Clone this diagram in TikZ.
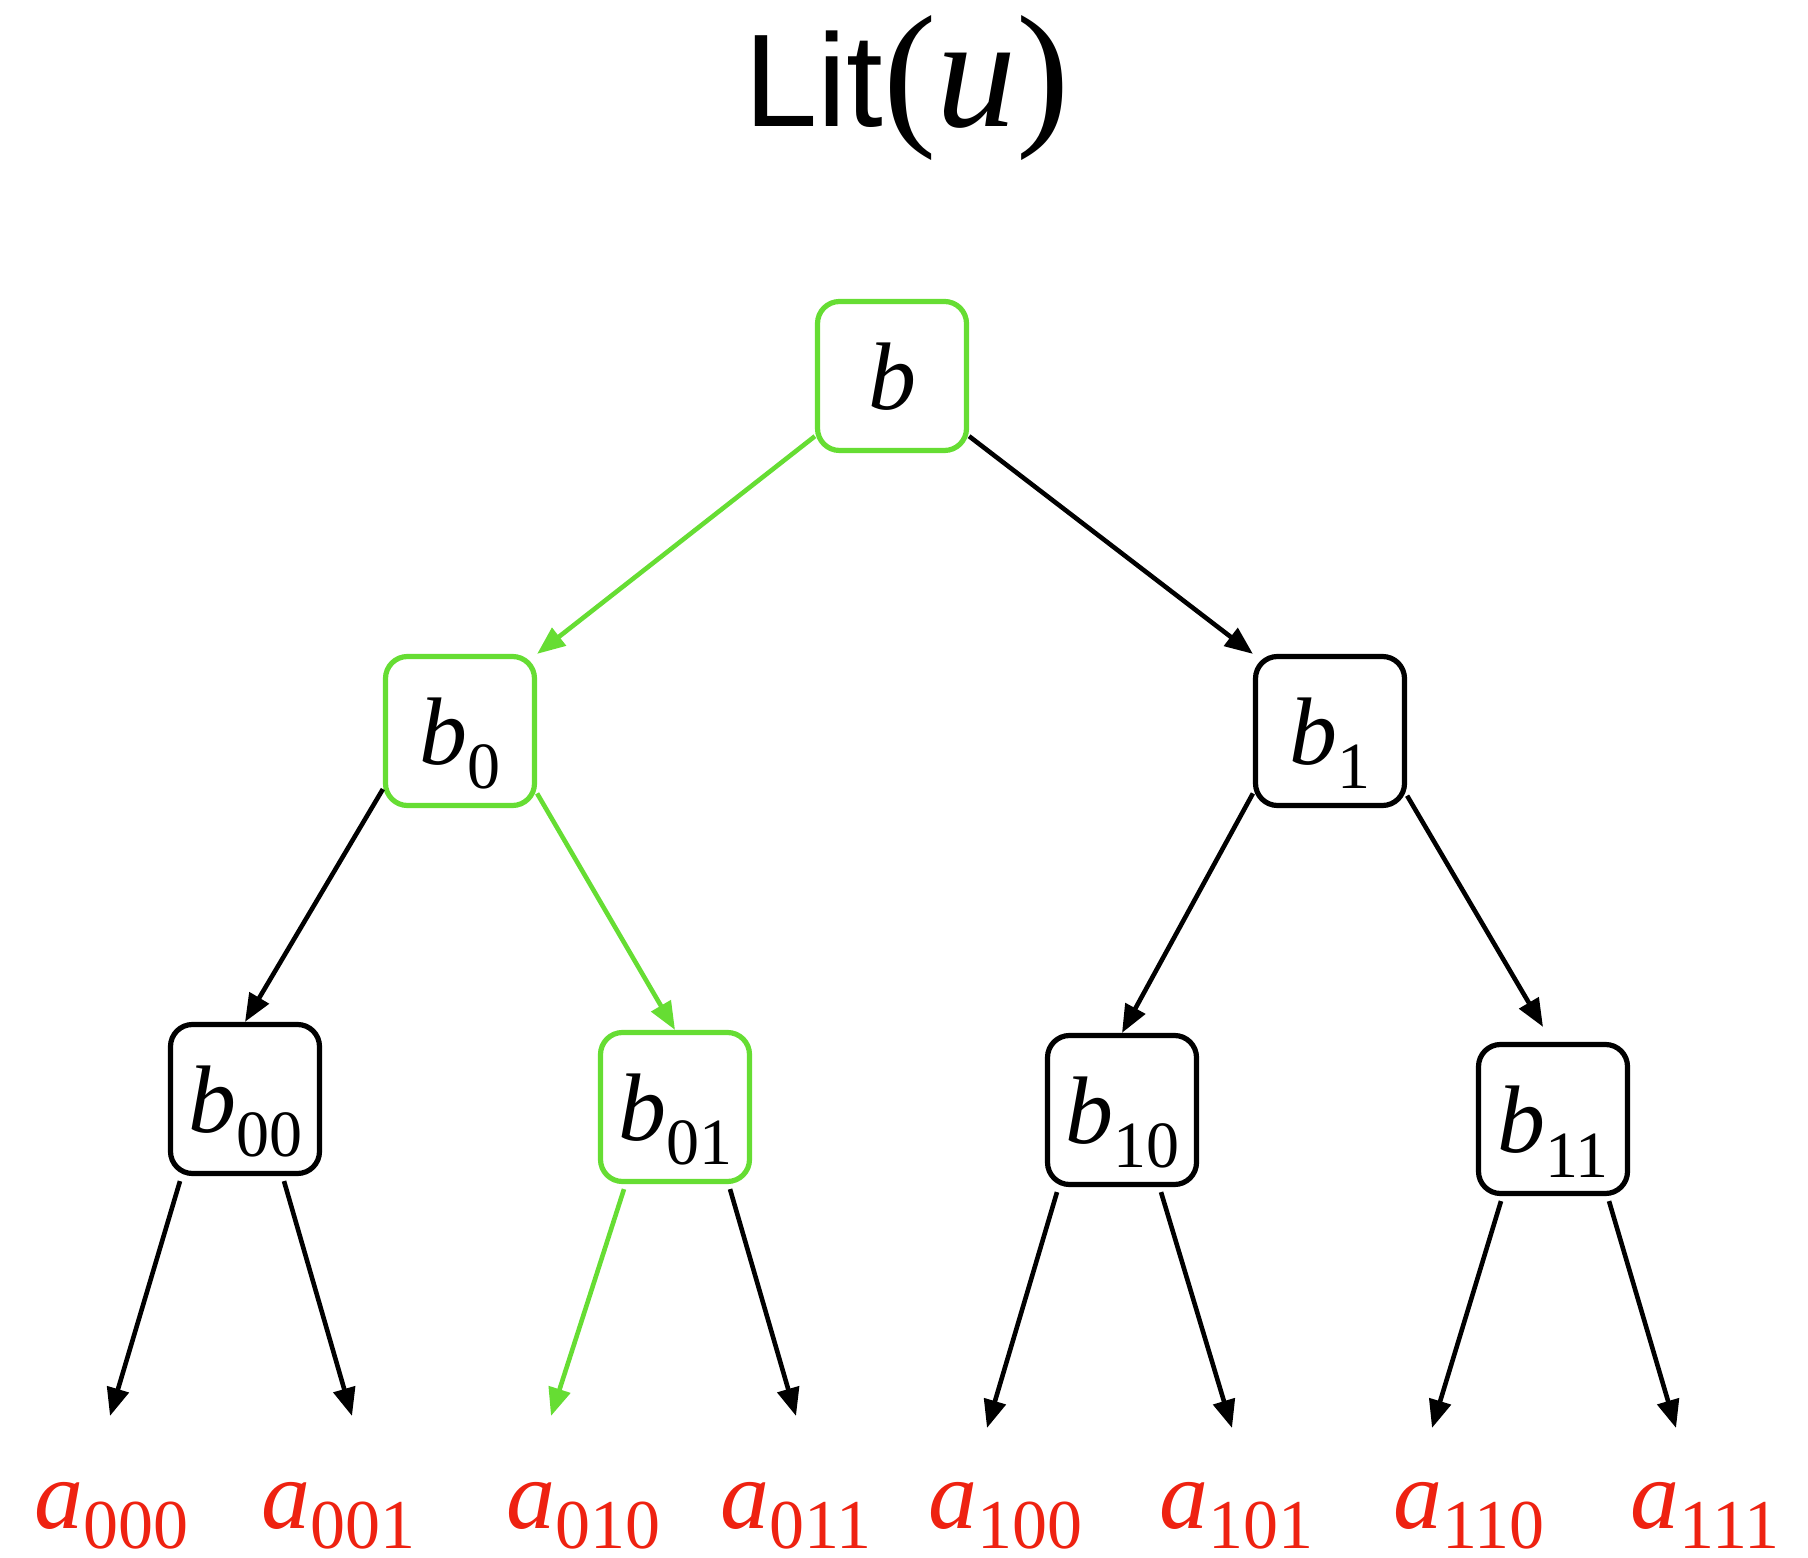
\documentclass[tikz,border=0pt]{standalone}
\usepackage{fontspec}
\setmainfont{Liberation Serif}
\setsansfont{Liberation Sans}
\usetikzlibrary{arrows.meta}
\definecolor{pathgreen}{RGB}{102,221,51}
\definecolor{leafred}{RGB}{238,34,17}
\newcommand{\bname}[1]{\fontsize{24}{24}\selectfont\textit{b}\raisebox{-6pt}{\fontsize{16.5}{16.5}\selectfont #1}}
\newcommand{\aname}[1]{\fontsize{24.5}{24.5}\selectfont\textit{a}\raisebox{-5pt}{\fontsize{17.5}{17.5}\selectfont #1}}
\tikzset{
  cell/.style={draw, line width=1.3pt, rounded corners=5.5pt, minimum size=37.25pt, inner sep=0pt, text height=17pt, text depth=0pt},
  hot/.style={draw=pathgreen},
  leaf/.style={text=leafred, anchor=base, inner sep=0pt},
}
\begin{document}
\begin{tikzpicture}[x=0.25pt, y=-0.25pt, >={Triangle[length=7pt,width=5.5pt]}, line width=1.15pt]
 \useasboundingbox (0,0) rectangle (1808,1558);
 \node[anchor=base] (title) at (907,127) {{\sffamily\fontsize{33}{33}\selectfont Lit}{\fontsize{40}{40}\selectfont(\textit{u})}};
 % tree
 \node[cell, hot] (b) at (892,376) {\bname{}};
 \node[cell, hot] (b0) at (460,731) {\bname{0}};
 \node[cell] (b1) at (1330,731) {\bname{1}};
 \node[cell] (b00) at (245,1099) {\bname{00}};
 \node[cell, hot] (b01) at (675,1107) {\bname{01}};
 \node[cell] (b10) at (1122,1110) {\bname{10}};
 \node[cell] (b11) at (1553,1119) {\bname{11}};
 \draw[->, pathgreen] (b.218) -- (b0.north east);
 \draw[->] (b.322) -- (b1.north west);
 \draw[->] (b0.217) -- (b00.north);
 \draw[->, pathgreen] (b0.321) -- (b01.north);
 \draw[->] (b1.219) -- (b10.north);
 \draw[->] (b1.320) -- ([shift={(-10,-15)}]b11.north);
 % leaves
 \node[leaf] (a000) at (112,1528) {\aname{000}};
 \node[leaf] (a001) at (338,1528) {\aname{001}};
 \node[leaf] (a010) at (583,1528) {\aname{010}};
 \node[leaf] (a011) at (796,1528) {\aname{011}};
 \node[leaf] (a100) at (1005,1528) {\aname{100}};
 \node[leaf] (a101) at (1236,1528) {\aname{101}};
 \node[leaf] (a110) at (1469,1528) {\aname{110}};
 \node[leaf] (a111) at (1705,1528) {\aname{111}};
 \coordinate (t000) at (110,1416);
 \coordinate (t001) at (352,1416);
 \coordinate (t010) at (551,1416);
 \coordinate (t011) at (796,1416);
 \coordinate (t100) at (987,1428);
 \coordinate (t101) at (1232,1428);
 \coordinate (t110) at (1432,1428);
 \coordinate (t111) at (1676,1428);
 \draw[->] ([shift={(-65,5)}]b00.south) -- (t000);
 \draw[->] ([shift={(39,5)}]b00.south) -- (t001);
 \draw[->, pathgreen] ([shift={(-51,5)}]b01.south) -- (t010);
 \draw[->] ([shift={(55,5)}]b01.south) -- (t011);
 \draw[->] ([shift={(-65,5)}]b10.south) -- (t100);
 \draw[->] ([shift={(39,5)}]b10.south) -- (t101);
 \draw[->] ([shift={(-52,5)}]b11.south) -- (t110);
 \draw[->] ([shift={(56,5)}]b11.south) -- (t111);
\end{tikzpicture}
\end{document}
